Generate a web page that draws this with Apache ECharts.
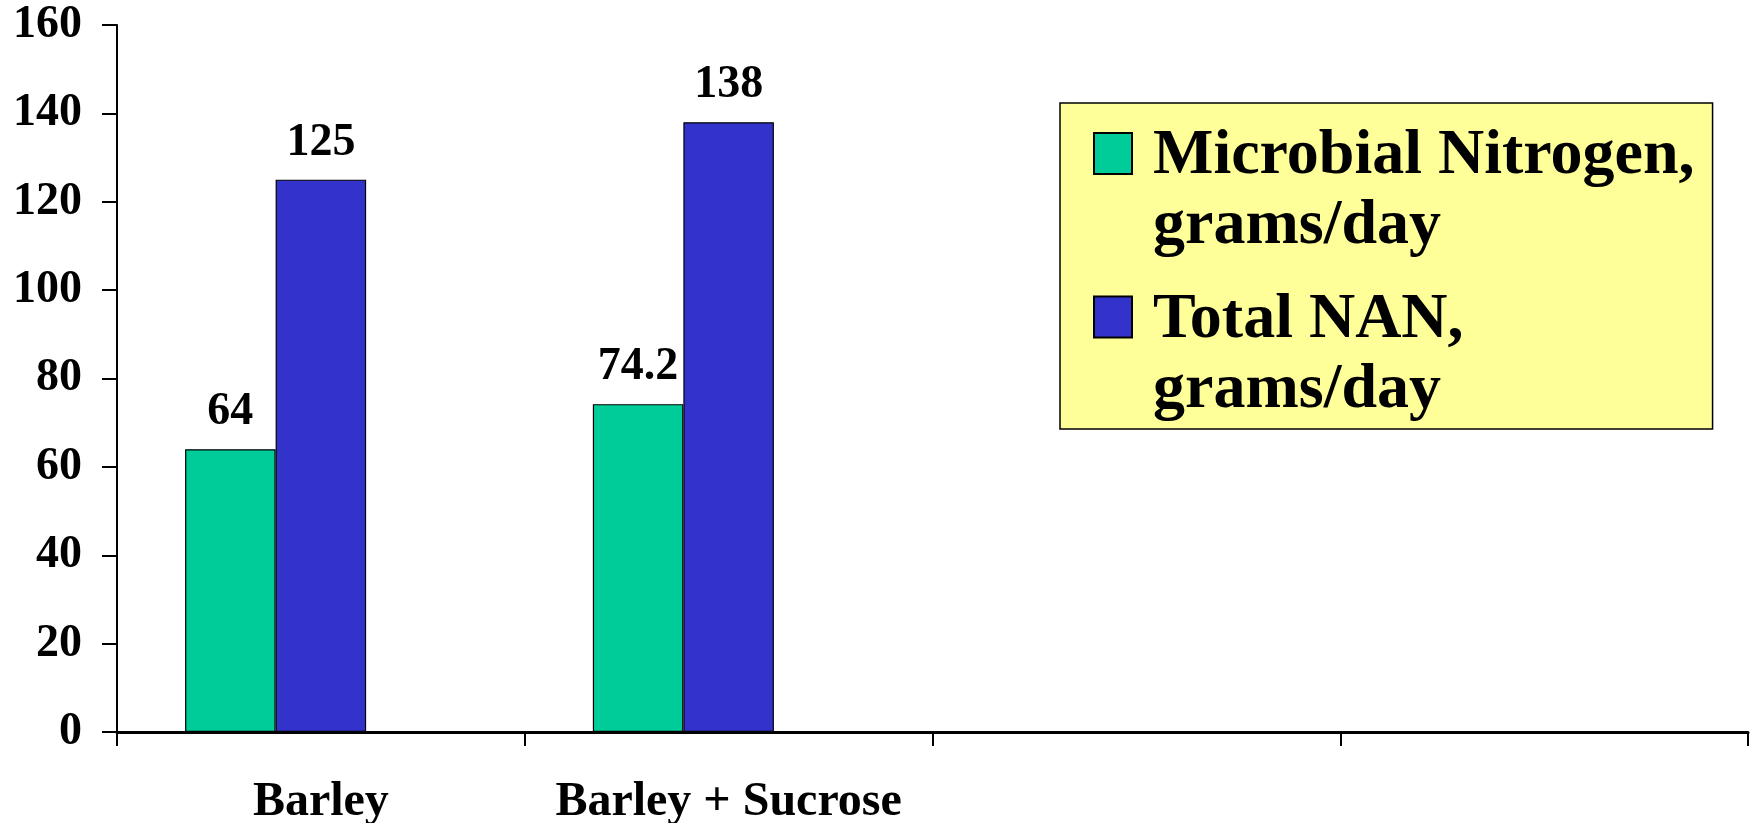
<!DOCTYPE html>
<html>
<head>
<meta charset="utf-8">
<script src="https://cdn.jsdelivr.net/npm/echarts@6/dist/echarts.min.js"></script>
<style>
html,body{margin:0;padding:0;background:#fff;}
#chart{width:1753px;height:823px;}
</style>
</head>
<body>
<div id="chart"></div>
<script>
const categories = ['Barley', 'Barley + Sucrose', '', ''];
const microbialNitrogen = [64, 74.2, null, null];
const totalNAN = [125, 138, null, null];
const spacerSeries = [null, null, null, null];
const yMin = 0, yMax = 160, yInterval = 20;
const seriesNames = ['Microbial Nitrogen, grams/day', 'Total NAN, grams/day'];

const FONT = '"Liberation Serif", "Times New Roman", serif';
const chart = echarts.init(document.getElementById('chart'));

const labelStyle = {
  show: true,
  position: 'top',
  distance: 14,
  fontFamily: FONT,
  fontWeight: 'bold',
  fontSize: 46,
  color: '#000'
};

chart.setOption({
  animation: false,
  backgroundColor: '#fff',
  grid: { left: 117, right: 5, top: 25, bottom: 91, containLabel: false, outerBoundsMode: 'none' },
  legend: {
    data: seriesNames,
    orient: 'vertical',
    left: 1060,
    top: 103,
    padding: [17.5, 18, 3, 33],
    itemGap: 21.5,
    itemWidth: 38,
    itemHeight: 140,
    icon: 'path://M0,0M0,11.5L38,11.5L38,52.5L0,52.5ZM0,140',
    backgroundColor: '#FFFF99',
    borderColor: '#000',
    borderWidth: 1.5,
    formatter: function (name) { return name.replace(', ', ',\n'); },
    textStyle: {
      fontFamily: FONT,
      fontWeight: 'bold',
      fontSize: 64,
      lineHeight: 70,
      color: '#000',
      padding: [0, 0, 0, 16]
    }
  },
  xAxis: {
    type: 'category',
    data: categories,
    axisLine: { lineStyle: { color: '#000', width: 3 } },
    axisTick: { show: true, interval: 0, length: 14, lineStyle: { color: '#000', width: 2 } },
    axisLabel: {
      interval: 0,
      margin: 47,
      fontFamily: FONT,
      fontWeight: 'bold',
      fontSize: 48,
      color: '#000'
    }
  },
  yAxis: {
    type: 'value',
    min: yMin,
    max: yMax,
    interval: yInterval,
    splitLine: { show: false },
    axisLine: { show: true, lineStyle: { color: '#000', width: 2 } },
    axisTick: { show: true, length: 15, lineStyle: { color: '#000', width: 2 } },
    axisLabel: {
      margin: 35,
      fontFamily: FONT,
      fontWeight: 'bold',
      fontSize: 46,
      color: '#000'
    }
  },
  series: [
    {
      name: seriesNames[0],
      type: 'bar',
      data: microbialNitrogen,
      barGap: '0%',
      barCategoryGap: '33.4%',
      itemStyle: { color: '#00CC99', borderColor: '#000', borderWidth: 1.2 },
      label: labelStyle
    },
    {
      name: seriesNames[1],
      type: 'bar',
      data: totalNAN,
      barGap: '0%',
      barCategoryGap: '33.4%',
      itemStyle: { color: '#3333CC', borderColor: '#000', borderWidth: 1.2 },
      label: labelStyle
    },
    {
      name: 'spacer',
      type: 'bar',
      data: spacerSeries,
      barGap: '0%',
      barCategoryGap: '33.4%',
      itemStyle: { color: '#FFFF99', borderColor: '#000', borderWidth: 1.2 },
      label: { show: false }
    }
  ]
});
</script>
</body>
</html>
